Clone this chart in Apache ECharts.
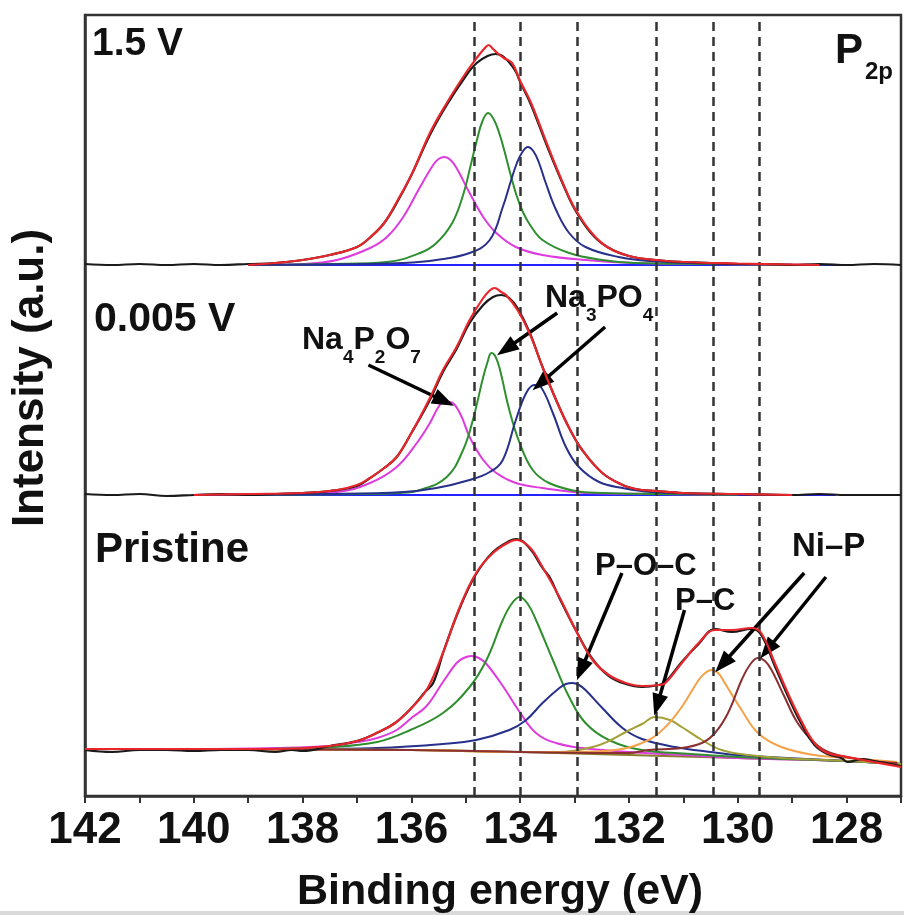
<!DOCTYPE html>
<html><head><meta charset="utf-8">
<script src="https://cdn.jsdelivr.net/npm/echarts@6/dist/echarts.min.js"></script>
<style>html,body{margin:0;padding:0;background:#fff}#c{width:904px;height:915px}</style>
</head><body><div id="c"></div>
<script>
// ---------- data (binding energy eV, intensity a.u.) ----------
const X_TICKS = [142, 140, 138, 136, 134, 132, 130, 128];
const PEAK_LINES = [134.85, 134.0, 132.95, 131.5, 130.45, 129.6];
const PANEL_OFFSETS = [531, 301, 0];   // vertical stacking offsets: 1.5 V, 0.005 V, Pristine

// 1.5 V
const v15_data = [[142,1],[141.5,0],[141,1],[140.5,0],[140,1],[139.5,0],[139,1],[138.5,2],[138,5],[137.5,10],[137,18],[136.75,28],[136.5,42],[136.25,64],[136,90],[135.66,130],[135.35,160],[135,189],[134.8,202],[134.6,209],[134.45,211],[134.3,208],[134.1,195],[134,183],[133.8,160],[133.5,118],[133.2,79],[133,56],[132.7,32],[132.4,18],[132,9],[131.5,5],[131,3],[130.5,2],[130,1],[129.5,1],[129,0],[128.5,1],[128,0],[127.5,1],[127,0]];
const v15_fit = [[139,0],[138.5,2],[138,5],[137.5,10],[137,18],[136.75,28],[136.5,42],[136.25,65],[136,90],[135.66,132],[135.35,162],[135,192],[134.8,207],[134.65,217],[134.58,220],[134.5,216],[134.4,211],[134.3,207],[134.15,202],[134,184],[133.8,162],[133.5,120],[133.2,80],[133,57],[132.7,33],[132.4,18],[132,9],[131.5,5],[131,3],[130,1.5],[129,0.5],[128.5,0]];
const v15_Na4P2O7 = [[139,0],[138,1],[137.37,5],[136.76,17],[136.45,28],[136.15,48],[135.84,78],[135.6,100],[135.5,106],[135.39,108],[135.28,105],[135.17,97],[134.93,72],[134.68,48],[134.44,32],[134.08,18],[133.59,10],[132.8,5],[131.9,2],[130.5,1],[129,0]];
const v15_Na3PO4a = [[139,0],[137.5,1],[136.45,3],[135.84,12],[135.54,22],[135.25,42],[135.05,70],[134.9,102],[134.8,124],[134.7,143],[134.59,152],[134.48,145],[134.38,131],[134.29,114],[134.18,91],[134.07,70],[133.95,53],[133.83,41],[133.59,25],[133.1,12],[132.49,5],[131.9,2],[130.5,1],[129,0]];
const v15_Na3PO4b = [[139,0],[137,1],[136.15,2],[135.54,5],[134.93,12],[134.56,25],[134.32,58],[134.16,86],[134.06,102],[133.96,113],[133.86,118],[133.76,114],[133.66,103],[133.53,82],[133.34,55],[133.1,32],[132.8,18],[132.19,8],[131.6,4],[130.5,1.5],[129,0.5],[128,0]];
const v15_base = [[139,0],[128.2,0]];

// 0.005 V
const v0005_data = [[142,1],[141.5,0],[141,1],[140.5,-1],[140,0],[139.5,1],[139,0],[138.5,1],[138,2],[137.5,4],[137,9],[136.76,17],[136.5,27],[136.27,38],[136,62],[135.66,95],[135.42,123],[135.17,146],[134.93,172],[134.68,190],[134.5,198],[134.35,200],[134.2,197],[134.05,187],[133.83,163],[133.59,128],[133.34,95],[133.1,67],[132.86,45],[132.49,22],[132.12,10],[131.88,6],[131.5,4],[131,2],[130,1],[129,0],[128.5,1],[128,0],[127.5,0],[127,0]];
const v0005_fit = [[140,0],[139,1],[138,2],[137.37,5],[137,10],[136.76,17],[136.5,27],[136.27,38],[136,62],[135.66,97],[135.42,125],[135.17,148],[134.93,175],[134.68,197],[134.55,205],[134.47,207],[134.35,203],[134.26,200],[134.05,185],[133.83,162],[133.59,128],[133.34,95],[133.1,67],[132.86,45],[132.49,22],[132.12,10],[131.88,6],[131.5,4],[131,2],[130,1],[129,0]];
const v0005_Na4P2O7 = [[140,0],[138.5,1],[137.37,3],[136.76,12],[136.27,28],[135.9,52],[135.66,72],[135.48,90],[135.38,93],[135.29,93],[135.11,82],[134.93,58],[134.68,35],[134.44,22],[134.08,12],[133.59,7],[132.8,2],[131.5,1],[130,0]];
const v0005_Na3PO4a = [[140,0],[137,1],[136.2,2],[135.84,5],[135.35,18],[135.05,45],[134.87,75],[134.68,118],[134.6,133],[134.53,142],[134.46,139],[134.38,127],[134.2,85],[134.01,52],[133.77,25],[133.47,12],[132.98,4],[132.49,2],[131.5,1],[130,0]];
const v0005_Na3PO4b = [[140,0],[137.5,1],[136.15,3],[135.54,7],[134.93,15],[134.56,23],[134.32,35],[134.08,75],[133.89,102],[133.74,110],[133.62,108],[133.4,82],[133.16,48],[132.92,28],[132.55,13],[132.12,7],[131.6,3],[130.5,1],[129,0]];
const v0005_base = [[140,0],[128.2,0]];

// Pristine
const pr_data = [[142,46],[141.5,44],[141,46],[140.5,46],[140,45],[139.5,46],[139,46],[138.5,44],[138.2,46],[138,45],[137.5,50],[137,55],[136.6,64],[136.3,73],[136,88],[135.75,104],[135.6,113],[135.4,146],[135.11,188],[134.81,222],[134.5,244],[134.2,255],[134.07,257],[133.83,248],[133.59,228],[133.45,218],[133.28,198],[132.98,166],[132.67,137],[132.37,120],[132.06,112],[131.76,109],[131.45,111],[131.33,114],[131.03,134],[130.72,152],[130.42,167],[130.11,164],[129.75,167],[129.57,161],[129.32,130],[129.08,100],[128.84,73],[128.59,51],[128.35,42],[128.1,38],[127.98,34],[127.7,37],[127.5,35],[127,30]];
const pr_fit = [[142,47],[140,47],[138.5,47],[137.5,50],[137,55],[136.6,64],[136.3,73],[136,88],[135.7,108],[135.4,146],[135.11,189],[134.81,223],[134.5,243],[134.2,254],[134.07,256],[133.83,249],[133.59,229],[133.28,199],[132.98,166],[132.67,136],[132.37,121],[132.06,113],[131.76,110],[131.45,111],[131.33,113],[131.03,133],[130.72,153],[130.42,166],[130.11,166],[129.75,168],[129.57,163],[129.32,133],[129.08,103],[128.84,76],[128.59,53],[128.35,43],[127.98,39],[127.5,34],[127,29]];
const pr_Na4P2O7 = [[142,47],[140,47],[138.5,48],[137.5,50],[137,54],[136.63,58],[136.27,66],[136,78],[135.72,90],[135.42,114],[135.17,133],[135.04,138],[134.9,140],[134.76,138],[134.62,132],[134.32,110],[134.01,84],[133.71,63],[133.34,53],[132.86,48],[132,44],[131,41],[130,38],[128,35],[127,32]];
const pr_Na3PO4 = [[142,47],[139,47],[137.5,49],[136.63,54],[136.02,66],[135.42,83],[134.93,109],[134.62,136],[134.32,176],[134.16,192],[134.01,199],[133.86,192],[133.71,176],[133.4,136],[133.1,99],[132.8,73],[132.37,56],[131.76,46],[131.15,43],[130,39],[128,35],[127,32]];
const pr_POC = [[142,47],[138,47],[136.63,48],[135.42,52],[134.81,56],[134.2,66],[133.89,76],[133.59,93],[133.28,108],[133.16,112],[133.04,113],[132.92,111],[132.8,106],[132.49,88],[132.12,68],[131.76,57],[131.15,49],[130.5,44],[130,41],[128,35],[127,32]];
const pr_PC = [[142,47],[136,46],[134,44],[133.28,44],[132.67,49],[132.37,55],[132.06,64],[131.76,72],[131.52,79],[131.25,76],[131.03,69],[130.66,56],[130.3,46],[129.81,41],[129.2,38],[128,35],[127,32]];
const pr_PC2 = [[142,47],[136,46],[134,44],[133,44],[132.25,46],[131.64,56],[131.33,69],[131.03,89],[130.72,116],[130.6,123],[130.48,126],[130.36,123],[130.24,113],[129.93,86],[129.63,63],[129.2,49],[128.59,41],[127.98,38],[127.07,34]];
const pr_NiP = [[142,47],[136,46],[134,44],[132,43],[131.64,46],[131.03,48],[130.66,53],[130.42,63],[130.18,83],[129.93,116],[129.78,131],[129.63,138],[129.5,135],[129.38,126],[129.14,99],[128.9,73],[128.59,53],[128.29,43],[127.68,36],[127.07,33]];
const pr_bg = [[142,47],[140,47],[138,47],[136,46],[134,44],[132,41],[130,38],[128,35],[127,32]];

// annotation arrows [fromBE, fromI, toBE, toI] in plotted coordinates
const ARROWS = [
  [136.79,431,135.40,395],
  [133.32,483,134.26,447],
  [132.44,469,133.62,413],
  [132.13,223,132.88,126],
  [130.98,186,131.48,91],
  [128.78,223,130.28,132],
  [128.38,219,129.46,146]
];

// ---------- styles ----------
const C = {data:'#1a1a1a', fit:'#e8262b', pink:'#dd3bdd', green:'#2f8f2f', navy:'#27308a',
  base:'#2323ff', olive:'#a3a035', orange:'#f4a24a', brown:'#8b3030', bg:'#8a7a2a'};
const FONT = '"Liberation Sans", Arial, Helvetica, sans-serif';

function line(data, off, color, width, z) {
  return {type:'line', data:data.map(p => [p[0], p[1] + off]), showSymbol:false, symbol:'none',
    smooth:0.4, lineStyle:{color, width}, z, silent:true, animation:false};
}

const series = [];
const [o1, o2, o3] = PANEL_OFFSETS;
// panel 1
series.push(line(v15_base, o1, C.base, 2, 2));
series.push(line(v15_Na4P2O7, o1, C.pink, 2, 3));
series.push(line(v15_Na3PO4a, o1, C.green, 2, 3));
series.push(line(v15_Na3PO4b, o1, C.navy, 2, 3));
series.push(line(v15_data, o1, C.data, 2.2, 4));
series.push(line(v15_fit, o1, C.fit, 2.2, 5));
// panel 2
series.push(line(v0005_base, o2, C.base, 2, 2));
series.push(line(v0005_Na4P2O7, o2, C.pink, 2, 3));
series.push(line(v0005_Na3PO4a, o2, C.green, 2, 3));
series.push(line(v0005_Na3PO4b, o2, C.navy, 2, 3));
series.push(line(v0005_data, o2, C.data, 2.2, 4));
series.push(line(v0005_fit, o2, C.fit, 2.2, 5));
// panel 3
series.push(line(pr_bg, o3, C.bg, 2, 2));
series.push(line(pr_Na4P2O7, o3, C.pink, 2, 3));
series.push(line(pr_Na3PO4, o3, C.green, 2, 3));
series.push(line(pr_POC, o3, C.navy, 2, 3));
series.push(line(pr_PC, o3, C.olive, 2, 3));
series.push(line(pr_PC2, o3, C.orange, 2, 3));
series.push(line(pr_NiP, o3, C.brown, 2, 3));
series.push(line(pr_data, o3, C.data, 2.2, 4));
series.push(line(pr_fit, o3, C.fit, 2.2, 5));

// dashed reference lines
series.push({type:'line', data:[], z:1, silent:true,
  markLine:{silent:true, symbol:['none','none'], animation:false, label:{show:false},
    lineStyle:{type:[9,6], color:'#333', width:2.5},
    data: PEAK_LINES.map(v => ({xAxis:v}))}});
// arrows
series.push({type:'line', data:[], z:10, silent:true,
  markLine:{silent:true, symbol:['none','triangle'], symbolSize:[16,22], animation:false, label:{show:false},
    lineStyle:{type:'solid', color:'#000', width:3.5},
    itemStyle:{color:'#000'},
    data: ARROWS.map(a => [{coord:[a[0],a[1]]},{coord:[a[2],a[3]]}])}});

// text helpers
const mctx = document.createElement('canvas').getContext('2d');
function tw(t, s){ mctx.font = 'bold ' + s + 'px ' + FONT; return mctx.measureText(t).width; }
function txt(t, x, y, s, extra) {
  return Object.assign({type:'text', x, y, z:100, silent:true,
    style:{text:t, font:'bold ' + s + 'px ' + FONT, fill:'#111'}}, extra || {});
}
function chem(x, y, parts, main, sub, drop) {
  const out = []; let cx = x;
  parts.forEach(([t, isSub]) => {
    const s = isSub ? sub : main;
    out.push(txt(t, cx, isSub ? y + drop : y, s));
    cx += tw(t, s);
  });
  return out;
}

const graphics = [
  txt('1.5 V', 92, 25, 39),
  txt('0.005 V', 94, 299, 41),
  txt('Pristine', 95, 529, 42),
  txt('P', 835, 30, 42),
  txt('2p', 865, 60, 24),
  ...chem(302, 324, [['Na',0],['4',1],['P',0],['2',1],['O',0],['7',1]], 32, 19, 24),
  ...chem(545, 282, [['Na',0],['3',1],['P',0],['O',0],['4',1]], 32, 19, 24),
  txt('P\u2013O\u2013C', 595, 551, 31),
  txt('P\u2013C', 675, 586, 31),
  txt('Ni\u2013P', 792, 530, 33),
  {type:'text', x:31, y:378, rotation:Math.PI/2, z:100, silent:true,
    style:{text:'Intensity (a.u.)', font:'bold 44px ' + FONT, fill:'#111', align:'center', verticalAlign:'middle'}},
  {type:'text', x:500, y:871, z:100, silent:true,
    style:{text:'Binding energy (eV)', font:'bold 43px ' + FONT, fill:'#111', align:'center', verticalAlign:'top'}},
  {type:'rect', shape:{x:0, y:911, width:904, height:4}, style:{fill:'#dadada'}, z:0, silent:true}
];

const chart = echarts.init(document.getElementById('c'), null, {renderer:'canvas'});
chart.setOption({
  animation:false,
  backgroundColor:'#fff',
  grid:{left:85, right:-1.5, top:15, bottom:119, show:true, borderColor:'#333', borderWidth:2.5, backgroundColor:'transparent'},
  xAxis:{type:'value', min:127, max:142, inverse:true, interval:1,
    axisLine:{show:true, onZero:false, lineStyle:{color:'#333', width:2.5}},
    axisTick:{show:true, inside:false, length:7, lineStyle:{color:'#333', width:2}},
    axisLabel:{interval:0, margin:13, color:'#111', fontSize:44, fontWeight:'bold', fontFamily:FONT,
      formatter: v => X_TICKS.includes(v) ? String(v) : ''},
    splitLine:{show:false}},
  yAxis:{type:'value', min:0, max:781,
    axisLine:{show:true, lineStyle:{color:'#333', width:2.5}},
    axisTick:{show:false}, axisLabel:{show:false}, splitLine:{show:false}},
  series,
  graphic: graphics
});
</script></body></html>
